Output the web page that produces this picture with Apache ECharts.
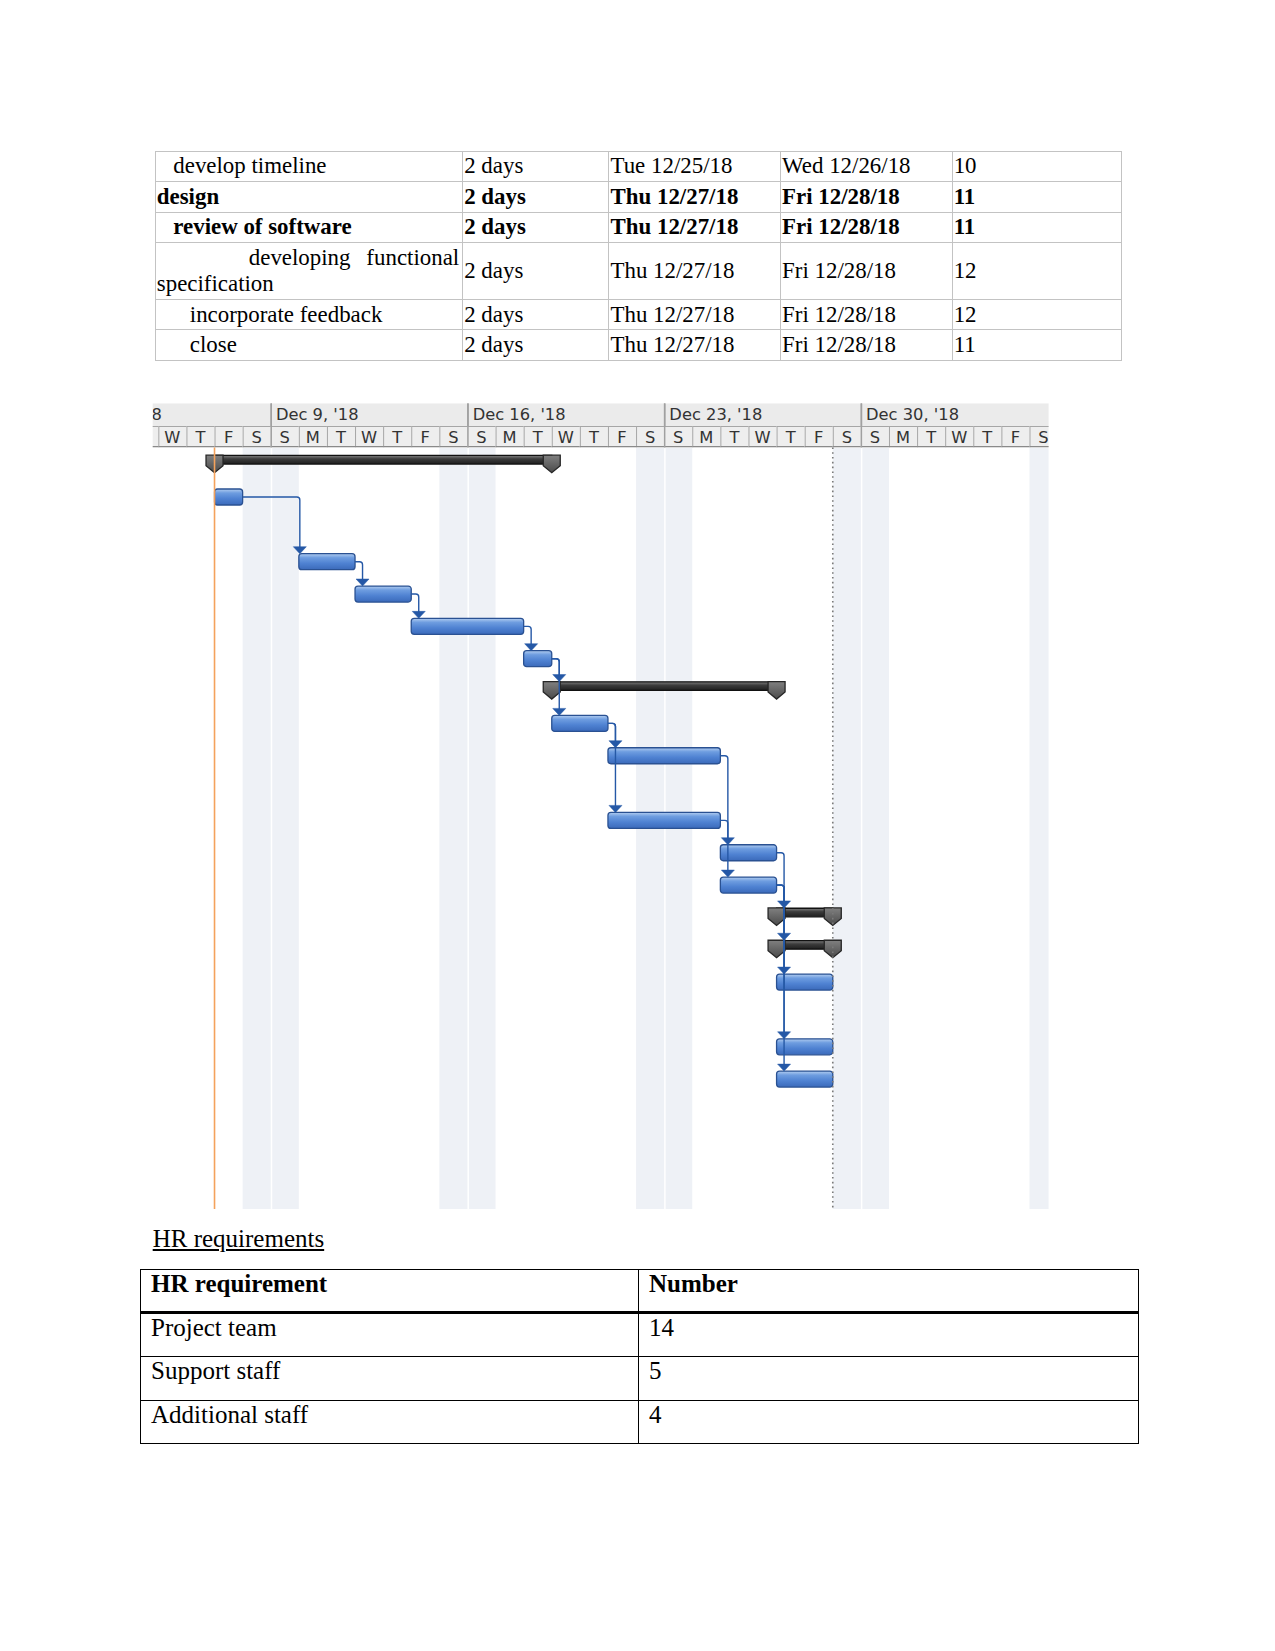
<!DOCTYPE html>
<html>
<head>
<meta charset="utf-8">
<script src="https://cdn.jsdelivr.net/npm/echarts@6/dist/echarts.min.js"></script>
<style>
html,body{margin:0;padding:0;background:#fff;}
body{width:1275px;height:1651px;position:relative;overflow:hidden;font-family:"Liberation Serif","Times New Roman",serif;color:#000;}
#gantt{position:absolute;left:0;top:0;width:1275px;height:1651px;z-index:0;}
table{border-collapse:collapse;table-layout:fixed;position:absolute;z-index:2;background:transparent;}
#t1{left:154.8px;top:150.5px;width:966.5px;font-size:22.9px;line-height:26.3px;}
#t1 td{border:1px solid #c3c3c3;padding:0 3px 0 1px;vertical-align:middle;white-space:nowrap;overflow:hidden;box-sizing:border-box;}
#t1 td.wrap{white-space:normal;text-align:justify;}
#t1 tr.b td{font-weight:bold;}
#hrTitle{position:absolute;left:152.7px;top:1224.5px;font-size:25px;line-height:28.75px;text-decoration:underline;z-index:2;}
#t2{left:140px;top:1268.6px;width:998px;font-size:25px;line-height:28.75px;}
#t2 td{border:1.3px solid #000;padding:0 8px 0 10px;vertical-align:top;box-sizing:border-box;}
#t2 tr.h td{font-weight:bold;border-bottom:3px solid #000;}
</style>
</head>
<body>
<div id="gantt"></div>
<table id="t1"></table>
<div id="hrTitle">HR requirements</div>
<table id="t2"></table>
<script>
// ---------------- schedule table data ----------------
const scheduleNames     = ['develop timeline','design','review of software','developing functional specification','incorporate feedback','close'];
const scheduleLevels    = [1, 0, 1, 2, 2, 2];
const scheduleBold      = [false, true, true, false, false, false];
const scheduleDurations = ['2 days','2 days','2 days','2 days','2 days','2 days'];
const scheduleStarts    = ['Tue 12/25/18','Thu 12/27/18','Thu 12/27/18','Thu 12/27/18','Thu 12/27/18','Thu 12/27/18'];
const scheduleFinishes  = ['Wed 12/26/18','Fri 12/28/18','Fri 12/28/18','Fri 12/28/18','Fri 12/28/18','Fri 12/28/18'];
const schedulePreds     = ['10','11','11','12','12','11'];

// ---------------- HR table data ----------------
const hrHeader  = ['HR requirement','Number'];
const hrNames   = ['Project team','Support staff','Additional staff'];
const hrNumbers = [14, 5, 4];

// ---------------- Gantt data ----------------
const weekStarts = ['2018-12-02','2018-12-09','2018-12-16','2018-12-23','2018-12-30'];
const weekLabels = ["Dec 2, '18","Dec 9, '18","Dec 16, '18","Dec 23, '18","Dec 30, '18"];
const dayLetters = ['S','M','T','W','T','F','S'];
const nonWorkingDays = ['2018-12-08','2018-12-09','2018-12-15','2018-12-16','2018-12-22','2018-12-23','2018-12-29','2018-12-30','2019-01-05'];

const ganttKinds    = ['summary','task','task','task','task','task','summary','task','task','task','task','task','summary','summary','task','task','task'];
const ganttRows     = [0, 1, 3, 4, 5, 6, 7, 8, 9, 11, 12, 13, 14, 15, 16, 18, 19];
const ganttStarts   = ['2018-12-07','2018-12-07','2018-12-10','2018-12-12','2018-12-14','2018-12-18','2018-12-19','2018-12-19','2018-12-21','2018-12-21','2018-12-25','2018-12-25','2018-12-27','2018-12-27','2018-12-27','2018-12-27','2018-12-27'];
const ganttFinishes = ['2018-12-18','2018-12-07','2018-12-11','2018-12-13','2018-12-17','2018-12-18','2018-12-26','2018-12-20','2018-12-24','2018-12-24','2018-12-26','2018-12-26','2018-12-28','2018-12-28','2018-12-28','2018-12-28','2018-12-28'];
const ganttLinks    = [[1,2],[2,3],[3,4],[4,5],[5,6],[5,7],[7,8],[7,9],[8,10],[9,11],[10,12],[11,13],[11,14],[11,15],[11,16]];

const currentDate = '2018-12-07';
const finishDate  = '2018-12-29';
const viewFrom = '2018-12-04', viewFromOffset = 0.80;   // first visible day (partially)
const viewTo   = '2019-01-05', viewToOffset   = 0.68;   // last visible day (partially)

// ---------------- build tables ----------------
(function(){
  const colW = [307.4,146.3,171.6,171.6,169.6];
  const rowH = [30.5,30.6,30.4,57,30.5,30.5];
  let h = '<colgroup>' + colW.map(w=>'<col style="width:'+w+'px">').join('') + '</colgroup>';
  scheduleNames.forEach((n,i)=>{
    let nameCell;
    if (i === 3) nameCell = '<td class="wrap" style="text-indent:92px">'+n+'</td>';
    else nameCell = '<td style="padding-left:'+(1+scheduleLevels[i]*16.5)+'px">'+n+'</td>';
    h += '<tr'+(scheduleBold[i]?' class="b"':'')+' style="height:'+rowH[i]+'px">'+nameCell+
      '<td>'+scheduleDurations[i]+'</td><td>'+scheduleStarts[i]+'</td><td>'+scheduleFinishes[i]+'</td><td>'+schedulePreds[i]+'</td></tr>';
  });
  document.getElementById('t1').innerHTML = h;

  const rH = [43.2,44.1,44.2,43.3];
  let g = '<colgroup><col style="width:498px"><col style="width:500px"></colgroup>';
  g += '<tr class="h" style="height:'+rH[0]+'px"><td>'+hrHeader[0]+'</td><td>'+hrHeader[1]+'</td></tr>';
  hrNames.forEach((n,i)=>{ g += '<tr style="height:'+rH[i+1]+'px"><td>'+n+'</td><td>'+hrNumbers[i]+'</td></tr>'; });
  document.getElementById('t2').innerHTML = g;
})();

// ---------------- Gantt chart ----------------
const EPOCH = Date.UTC(2018, 11, 2);
function dayNum(s){ const p = s.split('-').map(Number); return (Date.UTC(p[0],p[1]-1,p[2]) - EPOCH)/864e5; }
const xMin = dayNum(viewFrom) + viewFromOffset;
const xMax = dayNum(viewTo) + viewToOffset;

const HEADER_SPLIT = 23.3;  // header grid: value units == px
const HEADER_H = 44.2;
const FONT = '"DejaVu Sans", sans-serif';
const HFS = 16.3;

const dayCells = [];
for (let d = Math.floor(xMin); d < xMax; d++) dayCells.push([d]);

const chart = echarts.init(document.getElementById('gantt'), null, {renderer:'svg', width:1275, height:1651});

function clipGroup(params, children){
  const c = params.coordSys;
  return {type:'group', clipPath:{type:'rect', shape:{x:c.x, y:c.y, width:c.width, height:c.height}}, children};
}

const taskFill = new echarts.graphic.LinearGradient(0,0,0,1,[
  {offset:0, color:'#b2cdf0'},{offset:0.25, color:'#6e9de0'},{offset:0.6, color:'#4f82d2'},{offset:1, color:'#3b6aba'}]);
const sumFill = new echarts.graphic.LinearGradient(0,0,0,1,[
  {offset:0, color:'#808080'},{offset:0.4, color:'#3c3c3c'},{offset:1, color:'#1e1e1e'}]);
const capFill = new echarts.graphic.LinearGradient(0,0,0,1,[
  {offset:0, color:'#808080'},{offset:1, color:'#4a4a4a'}]);

function rowY(api, row){ return api.coord([xMin, row])[1]; }
function xAt(api, d){ return api.coord([d, 0])[0]; }

const option = {
  animation:false,
  grid:[
    {left:152.7, right:226.4, top:403.2, height:HEADER_H},
    {left:152.7, right:226.4, top:447.4, height:761.6}
  ],
  xAxis:[
    {type:'value', gridIndex:0, min:xMin, max:xMax, show:false},
    {type:'value', gridIndex:1, min:xMin, max:xMax, show:false}
  ],
  yAxis:[
    {type:'value', gridIndex:0, min:0, max:HEADER_H, inverse:true, show:false},
    {type:'value', gridIndex:1, min:-0.534, max:23.016, inverse:true, show:false}
  ],
  series:[
    // header: week row
    {type:'custom', xAxisIndex:0, yAxisIndex:0, z:2, silent:true,
     data: weekStarts.map((w,i)=>[dayNum(w), i]),
     renderItem:function(params, api){
       const d = api.value(0), i = api.value(1);
       const x0 = xAt(api, d), x1 = xAt(api, d+7);
       const c = params.coordSys;
       return clipGroup(params, [
         {type:'rect', shape:{x:x0, y:c.y, width:x1-x0, height:HEADER_SPLIT}, style:{fill:'#ebebeb'}},
         {type:'line', shape:{x1:x0+0.5, y1:c.y, x2:x0+0.5, y2:c.y+HEADER_H}, style:{stroke:'#a0a0a0', lineWidth:1.5}},
         {type:'text', style:{text:weekLabels[i], x:x0+5.2, y:c.y+11.3, fill:'#333', fontFamily:FONT, fontSize:HFS, textAlign:'left', textVerticalAlign:'middle', verticalAlign:'middle'}}
       ]);
     }},
    // header: day row
    {type:'custom', xAxisIndex:0, yAxisIndex:0, z:2, silent:true,
     data: dayCells,
     renderItem:function(params, api){
       const d = api.value(0);
       const x0 = xAt(api, d), x1 = xAt(api, d+1);
       const c = params.coordSys;
       const y0 = c.y + HEADER_SPLIT;
       const kids = [
         {type:'rect', shape:{x:x0, y:y0, width:x1-x0, height:HEADER_H-HEADER_SPLIT}, style:{fill:'#eeeeee'}},
         {type:'line', shape:{x1:x0, y1:y0, x2:x1, y2:y0}, style:{stroke:'#a6a6a6', lineWidth:1}},
         {type:'line', shape:{x1:x0, y1:c.y+HEADER_H-0.75, x2:x1, y2:c.y+HEADER_H-0.75}, style:{stroke:'#8a8a8a', lineWidth:1.5}},
         {type:'text', style:{text:dayLetters[((d%7)+7)%7], x:(x0+x1)/2, y:y0+10.6, fill:'#333', fontFamily:FONT, fontSize:HFS, textAlign:'center', textVerticalAlign:'middle', verticalAlign:'middle'}}
       ];
       if (((d%7)+7)%7 !== 0) kids.splice(1,0,{type:'line', shape:{x1:x0+0.5, y1:y0, x2:x0+0.5, y2:c.y+HEADER_H}, style:{stroke:'#a6a6a6', lineWidth:1}});
       else kids.push({type:'line', shape:{x1:x0+0.5, y1:c.y, x2:x0+0.5, y2:c.y+HEADER_H}, style:{stroke:'#a0a0a0', lineWidth:1.5}});
       return clipGroup(params, kids);
     }},
    // non-working day shading
    {type:'custom', xAxisIndex:1, yAxisIndex:1, z:1, silent:true,
     data: nonWorkingDays.map(s=>[dayNum(s)]),
     renderItem:function(params, api){
       const d = api.value(0);
       let x0 = xAt(api, d); const x1 = xAt(api, d+1);
       if (((d%7)+7)%7 === 0) x0 += 1.5;
       const c = params.coordSys;
       return clipGroup(params, [{type:'rect', shape:{x:x0, y:c.y, width:x1-x0, height:c.height}, style:{fill:'#eef1f6'}}]);
     }},
    // bars
    {type:'custom', xAxisIndex:1, yAxisIndex:1, z:3, silent:true,
     data: ganttKinds.map((k,i)=>[dayNum(ganttStarts[i]), dayNum(ganttFinishes[i])+1, ganttRows[i], k==='summary'?1:0]),
     renderItem:function(params, api){
       const s = api.value(0), e = api.value(1), row = api.value(2), isSum = api.value(3);
       const x0 = xAt(api, s), x1 = xAt(api, e), yc = rowY(api, row);
       if (!isSum){
         return clipGroup(params, [
           {type:'rect', shape:{x:x0, y:yc-8, width:x1-x0, height:16, r:3}, style:{fill:taskFill, stroke:'#2a5192', lineWidth:1.3}}
         ]);
       }
       const cap = (x)=>({type:'polygon', shape:{points:[[x-8.5,yc-9.5],[x+8.5,yc-9.5],[x+8.5,yc+1],[x,yc+8],[x-8.5,yc+1]]}, style:{fill:capFill, stroke:'#262626', lineWidth:1.3}});
       return clipGroup(params, [
         {type:'rect', shape:{x:x0, y:yc-9.2, width:x1-x0, height:8.6}, style:{fill:sumFill, stroke:'#111', lineWidth:1.3}},
         cap(x0), cap(x1)
       ]);
     }},
    // links
    {type:'custom', xAxisIndex:1, yAxisIndex:1, z:4, silent:true,
     data: ganttLinks.map(l=>[l[0], l[1]]),
     renderItem:function(params, api){
       const a = api.value(0), b = api.value(1);
       const xe = xAt(api, dayNum(ganttFinishes[a])+1);
       const xs = xAt(api, dayNum(ganttStarts[b]));
       const ya = rowY(api, ganttRows[a]);
       const yb = rowY(api, ganttRows[b]) - (ganttKinds[b]==='summary' ? 9.5 : 8);
       const vx = Math.max(xs + 1, xe + 7.5);
       const col = '#2558a6';
       return clipGroup(params, [
         {type:'path', shape:{pathData:'M'+xe+' '+ya+' L'+(vx-3)+' '+ya+' Q'+vx+' '+ya+' '+vx+' '+(ya+3)+' L'+vx+' '+(yb-6)}, style:{stroke:col, lineWidth:1.4, fill:null}},
         {type:'polygon', shape:{points:[[vx-6.5,yb-7],[vx+6.5,yb-7],[vx,yb]]}, style:{fill:col, stroke:col, lineWidth:0.5}}
       ]);
     }},
    // date lines
    {type:'custom', xAxisIndex:1, yAxisIndex:1, z:5, silent:true,
     data:[[dayNum(currentDate), 0],[dayNum(finishDate), 1]],
     renderItem:function(params, api){
       const x = xAt(api, api.value(0)), kind = api.value(1);
       const c = params.coordSys;
       if (kind === 0) return {type:'line', shape:{x1:x, y1:c.y, x2:x, y2:c.y+c.height}, style:{stroke:'#f4a25c', lineWidth:1.6}};
       return {type:'line', shape:{x1:x, y1:c.y, x2:x, y2:c.y+c.height}, style:{stroke:'#7a7a7a', lineWidth:1.6, lineDash:[1.6,3.2]}};
     }}
  ]
};
chart.setOption(option);
</script>
</body>
</html>
